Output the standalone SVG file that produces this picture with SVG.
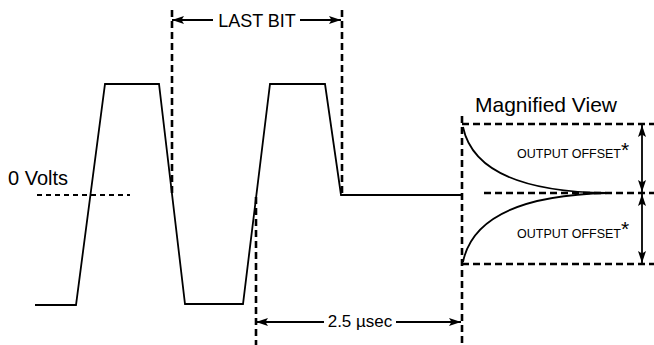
<svg xmlns="http://www.w3.org/2000/svg" width="654" height="345" viewBox="0 0 654 345">
<defs>
<style>
.w{fill:none;stroke:#000;stroke-width:1.8;stroke-linejoin:miter}
.d{fill:none;stroke:#000;stroke-width:2.6;stroke-dasharray:7 4}
.dt{fill:none;stroke:#000;stroke-width:1.8;stroke-dasharray:5 4}
.a{fill:none;stroke:#000;stroke-width:1.8}
.t{font-family:"Liberation Sans",Arial,sans-serif;fill:#000}
</style>
<marker id="ah" viewBox="0 0 12 8" refX="12" refY="4" markerWidth="12" markerHeight="8" markerUnits="userSpaceOnUse" orient="auto-start-reverse">
<path d="M0,0 L12,4 L0,8 L2.5,4 Z" fill="#000"/>
</marker>
</defs>
<g id="waveform">
<polyline class="w" points="35,305 76,305 105,84 159,84 185,304 243,304 270,84 325,84 341,195 462,195"/>
</g>
<g id="magnified">
<path class="w" d="M463,127 C472,170 520,192 608,193"/>
<path class="w" d="M463,262 C472,218 520,195 608,193"/>
</g>
<g id="connectors">
<line class="d" x1="172" y1="10" x2="172" y2="197"/>
<line class="d" x1="342" y1="10" x2="342" y2="196"/>
<line class="d" x1="256" y1="197" x2="256" y2="345"/>
<line class="d" x1="462" y1="116" x2="462" y2="345"/>
<line class="dt" x1="37" y1="195" x2="130" y2="195"/>
<line class="d" x1="462" y1="124" x2="654" y2="124"/>
<line class="d" x1="484" y1="193" x2="654" y2="193"/>
<line class="d" x1="462" y1="264" x2="654" y2="264"/>
<line class="a" x1="213" y1="20" x2="172" y2="20" marker-end="url(#ah)"/>
<line class="a" x1="300" y1="20" x2="341" y2="20" marker-end="url(#ah)"/>
<line class="a" x1="324" y1="322" x2="256" y2="322" marker-end="url(#ah)"/>
<line class="a" x1="396" y1="322" x2="461" y2="322" marker-end="url(#ah)"/>
<line class="a" x1="642" y1="125" x2="642" y2="192" marker-start="url(#ah)" marker-end="url(#ah)"/>
<line class="a" x1="642" y1="194" x2="642" y2="263" marker-start="url(#ah)" marker-end="url(#ah)"/>
</g>
<g id="labels">
<text class="t" x="257" y="27" font-size="18" text-anchor="middle">LAST BIT</text>
<text class="t" x="8" y="185" font-size="20">0 Volts</text>
<text class="t" x="360" y="327" font-size="17" text-anchor="middle">2.5 µsec</text>
<text class="t" x="546" y="112" font-size="21" text-anchor="middle">Magnified View</text>
<text class="t" x="569" y="158" font-size="12.5" text-anchor="middle">OUTPUT OFFSET</text>
<text class="t" x="569" y="237.5" font-size="12.5" text-anchor="middle">OUTPUT OFFSET</text>
<text class="t" x="621" y="157" font-size="21">*</text>
<text class="t" x="621" y="236" font-size="21">*</text>
</g>
</svg>
